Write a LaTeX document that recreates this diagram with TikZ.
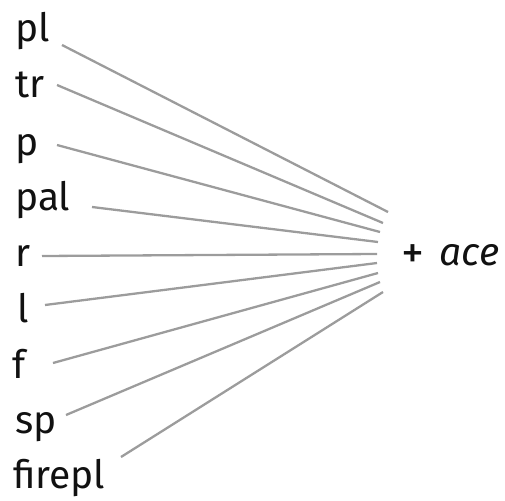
\documentclass[tikz,border=0pt]{standalone}
\usepackage{fontspec}
\setmainfont{Fira Sans}
\usetikzlibrary{positioning}
\definecolor{linegray}{HTML}{9C9C9C}
\definecolor{inkblack}{HTML}{111111}

\begin{document}
\begin{tikzpicture}[x=1pt, y=-1pt,
      word/.style={anchor=base west,inner sep=0pt,text=inkblack,font=\fontsize{39}{41}\selectfont},
      link/.style={draw=linegray,line width=2.3pt}]
    \useasboundingbox (0,0) rectangle (505,500);
    % word beginnings on the left
    \node[word] (pl) at (15,42) {pl};
    \node[word] (tr) at (15,98) {tr};
    \node[word] (p) at (15,155) {p};
    \node[word] (pal) at (15,210) {pal};
    \node[word] (r) at (15,266) {r};
    \node[word] (l) at (17,322) {l};
    \node[word] (f) at (12,378) {f};
    \node[word] (sp) at (15,433) {sp};
    \node[word] (firepl) at (13,488) {firepl};
    % the ending
    \node[word] (ace) at (401,265) {\raisebox{-3pt}{\fontsize{46}{46}\selectfont+}\hspace{0.4em}\textit{ace}};
    % free ends of the lines
    \coordinate (pl-s) at (62,45);      \coordinate (pl-e) at (388,212);
    \coordinate (tr-s) at (57,85);      \coordinate (tr-e) at (383,223);
    \coordinate (p-s) at (57,145);      \coordinate (p-e) at (380,232);
    \coordinate (pal-s) at (92,207);    \coordinate (pal-e) at (378,242);
    \coordinate (r-s) at (42,256);      \coordinate (r-e) at (377,254);
    \coordinate (l-s) at (45,305);      \coordinate (l-e) at (377,263);
    \coordinate (f-s) at (53,363);      \coordinate (f-e) at (378,273);
    \coordinate (sp-s) at (66,415);     \coordinate (sp-e) at (380,282);
    \coordinate (firepl-s) at (121,457); \coordinate (firepl-e) at (383,292);
    \draw[link] (pl-s) -- (pl-e);
    \draw[link] (tr-s) -- (tr-e);
    \draw[link] (p-s) -- (p-e);
    \draw[link] (pal-s) -- (pal-e);
    \draw[link] (r-s) -- (r-e);
    \draw[link] (l-s) -- (l-e);
    \draw[link] (f-s) -- (f-e);
    \draw[link] (sp-s) -- (sp-e);
    \draw[link] (firepl-s) -- (firepl-e);
  \end{tikzpicture}
\end{document}
